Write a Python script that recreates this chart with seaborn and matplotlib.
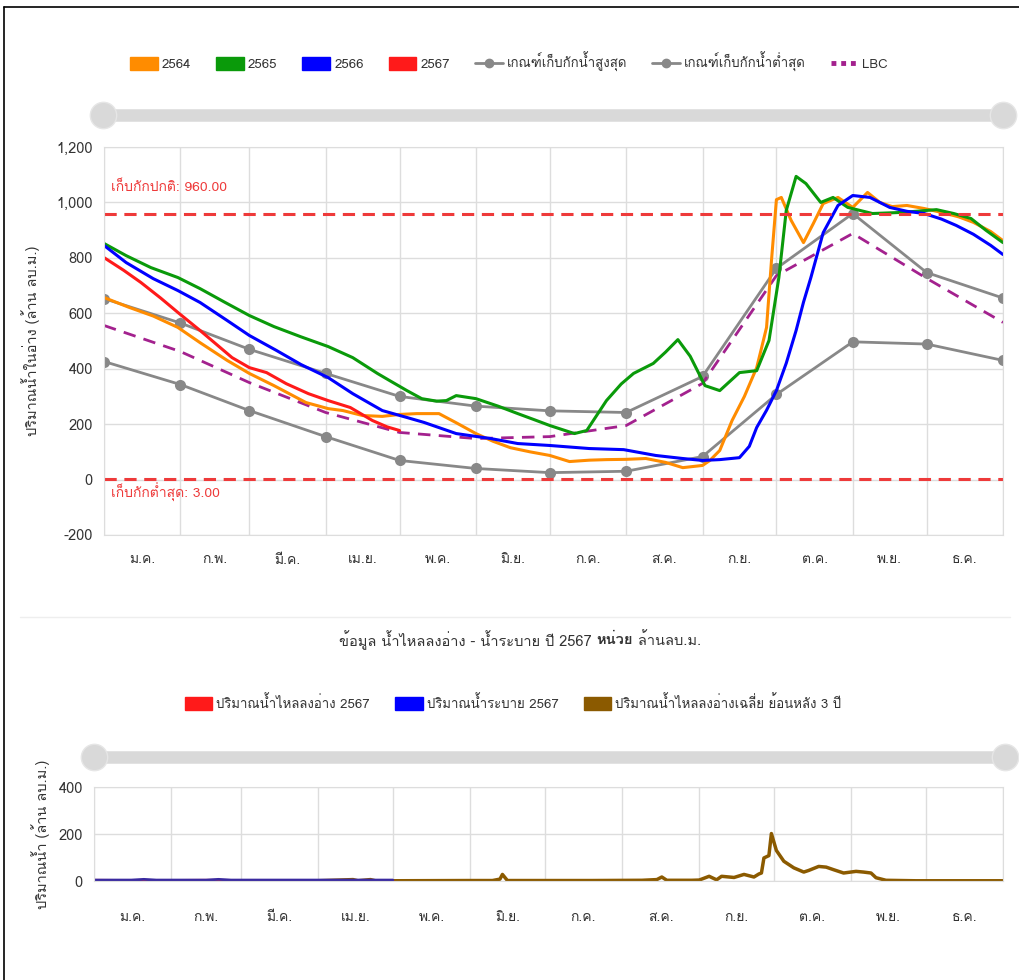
# Reservoir storage chart (two panels) rebuilt with seaborn
import matplotlib
matplotlib.use("Agg")
import matplotlib.pyplot as plt
import seaborn as sns
from matplotlib import font_manager
from matplotlib.lines import Line2D
from matplotlib.patches import Patch
from matplotlib.ticker import FuncFormatter

# ---- data -------------------------------------------------------------
months = ['ม.ค.', 'ก.พ.', 'มี.ค.', 'เม.ย.', 'พ.ค.', 'มิ.ย.',
          'ก.ค.', 'ส.ค.', 'ก.ย.', 'ต.ค.', 'พ.ย.', 'ธ.ค.']
month_start = [0, 31, 59, 90, 120, 151, 181, 212, 243, 273, 304, 334, 365]

rule_max = [653, 565, 470, 383, 300, 265, 248, 242, 372, 762, 960, 747, 655]
rule_min = [426, 343, 249, 155, 69, 40, 25, 30, 83, 307, 497, 489, 430]
lbc = [556, 462, 350, 242, 170, 148, 155, 195, 347, 736, 888, 726, 567]

y2564_day = [0, 10, 20, 30, 39, 50, 59, 69, 82, 91, 97, 105, 113, 120, 127,
             136, 143, 151, 158, 165, 173, 181, 189, 197, 204, 212, 220, 228,
             235, 243, 246, 250, 255, 260, 265, 267, 269, 271, 273, 275, 279,
             284, 288, 292, 298, 304, 310, 315, 320, 326, 333, 340, 347, 353,
             360, 365]
y2564_val = [657, 622, 590, 549, 494, 430, 383, 339, 278, 256, 249, 231, 228,
             235, 238, 238, 205, 166, 138, 115, 100, 87, 65, 70, 72, 73, 76,
             62, 43, 51, 69, 105, 213, 300, 404, 476, 549, 790, 1010, 1018,
             935, 855, 924, 996, 1018, 982, 1036, 1000, 985, 989, 978, 964,
             948, 928, 895, 862]

y2565_day = [0, 9, 19, 30, 39, 49, 59, 69, 80, 91, 101, 111, 116, 123, 129,
             135, 139, 143, 151, 160, 168, 175, 181, 191, 196, 204, 210, 215,
             223, 228, 233, 238, 244, 250, 258, 265, 270, 274, 277, 281, 285,
             291, 296, 302, 312, 324, 338, 345, 352, 358, 365]
y2565_val = [852, 808, 765, 729, 689, 640, 592, 552, 515, 480, 440, 383, 357,
             321, 292, 283, 285, 303, 292, 265, 238, 215, 195, 166, 177, 285,
             345, 383, 419, 460, 505, 445, 339, 321, 386, 393, 502, 729, 971,
             1094, 1068, 1000, 1018, 982, 960, 964, 974, 960, 942, 900, 855]

y2566_day = [0, 9, 20, 30, 39, 50, 59, 70, 80, 91, 101, 113, 123, 130, 143,
             157, 168, 181, 197, 211, 224, 235, 243, 250, 258, 262, 265, 269,
             273, 277, 281, 284, 287, 292, 298, 304, 311, 319, 326, 333, 340,
             346, 353, 360, 365]
y2566_val = [845, 783, 725, 682, 639, 574, 520, 466, 415, 368, 310, 249, 224,
             206, 166, 148, 130, 123, 112, 108, 87, 76, 69, 72, 79, 120, 188,
             250, 321, 420, 538, 640, 729, 891, 989, 1025, 1018, 982, 968,
             960, 940, 917, 885, 845, 812]

y2567_day = [0, 8, 15, 23, 30, 39, 52, 59, 66, 74, 83, 91, 100, 109, 115, 120]
y2567_val = [801, 755, 711, 655, 603, 538, 440, 404, 386, 346, 310, 285, 260,
             213, 190, 177]

normal_level = 960
min_level = 3

# lower panel
inflow_day = [0, 20, 45, 70, 95, 120]
inflow_val = [3, 2, 3, 2, 2, 1]
release_day = [0, 15, 20, 25, 45, 50, 55, 90, 120]
release_val = [4, 4, 7, 4, 4, 7, 4, 4, 4]
avg3_day = [0, 30, 60, 90, 104, 106, 111, 113, 120, 150, 160, 163, 164, 166,
            180, 200, 220, 226, 228, 230, 240, 243, 247, 250, 252, 257, 261,
            265, 267, 268, 269, 271, 272, 274, 277, 281, 285, 287, 291, 294,
            297, 301, 306, 309, 312, 314, 318, 330, 350, 365]
avg3_val = [1, 1, 1, 1, 6, 1, 6, 1, 1, 2, 2, 8, 28, 2, 2, 2, 3, 6, 17, 3, 3,
            4, 20, 5, 20, 15, 28, 17, 30, 34, 98, 108, 202, 130, 84, 56, 38,
            45, 62, 59, 48, 34, 41, 38, 34, 14, 3, 1, 1, 1]

# ---- style ------------------------------------------------------------
sns.set_style("white")


def thai_font():
    from fontTools.ttLib import TTFont
    for f in font_manager.fontManager.ttflist:
        try:
            font = TTFont(f.fname, fontNumber=0, lazy=True)
            if 0x0E01 in font.getBestCmap():
                return f.name
        except Exception:
            continue
    return None


tf = thai_font()
plt.rcParams['font.family'] = [tf, 'DejaVu Sans'] if tf else ['DejaVu Sans']

C_ORANGE = '#ff8c00'
C_GREEN = '#0a9a0a'
C_BLUE = '#0000ff'
C_RED = '#ff1a1a'
C_GRAY = '#888888'
C_LBC = '#a3218e'
C_LIMIT = '#ee3a3a'
C_BROWN = '#8b5a00'
GRID = '#dddddd'
TXT = '#333333'

W, H = 1020, 980
fig = plt.figure(figsize=(W / 100, H / 100), dpi=100)


def fx(x):
    return x / W


def fy(y):
    return 1 - y / H


def axes_px(left, top, right, bottom):
    return fig.add_axes([fx(left), fy(bottom), fx(right - left), (bottom - top) / H])


def style_axes(ax, pad):
    ax.set_xlim(0, 365)
    ax.set_xticks(month_start)
    ax.set_xticklabels([])
    mids = [(a + b) / 2 for a, b in zip(month_start[:-1], month_start[1:])]
    ax.set_xticks(mids, minor=True)
    ax.set_xticklabels(months, minor=True)
    ax.tick_params(axis='x', which='both', length=0, pad=pad, labelsize=10,
                   colors=TXT)
    ax.tick_params(axis='y', length=0, labelsize=10.5, colors=TXT, pad=8)
    ax.grid(True, which='major', color=GRID, lw=1)
    ax.set_axisbelow(True)
    for s in ax.spines.values():
        s.set_color(GRID)


def slider(y, x0, x1):
    fig.add_artist(Line2D([fx(x0), fx(x1)], [fy(y), fy(y)], lw=9,
                          color='#d9d9d9', solid_capstyle='butt'))
    for x in (x0, x1):
        fig.add_artist(Line2D([fx(x)], [fy(y)], marker='o', markersize=19,
                              color='#d9d9d9', markeredgecolor='#e6e6e6'))


# ---- upper panel --------------------------------------------------------
ax = axes_px(104, 147, 1003, 535)
style_axes(ax, 14)
ax.set_ylim(-200, 1200)
ax.set_yticks(range(-200, 1201, 200))
ax.yaxis.set_major_formatter(FuncFormatter(lambda v, p: f'{int(v):,}'))

sns.lineplot(x=month_start, y=rule_max, color=C_GRAY, lw=2, marker='o',
             markersize=8, markeredgewidth=0, ax=ax)
sns.lineplot(x=month_start, y=rule_min, color=C_GRAY, lw=2, marker='o',
             markersize=8, markeredgewidth=0, ax=ax)
sns.lineplot(x=month_start, y=lbc, color=C_LBC, lw=2, ax=ax)
ax.lines[-1].set_dashes([4.5, 3])
sns.lineplot(x=y2564_day, y=y2564_val, color=C_ORANGE, lw=2.2, ax=ax)
sns.lineplot(x=y2565_day, y=y2565_val, color=C_GREEN, lw=2.2, ax=ax)
sns.lineplot(x=y2566_day, y=y2566_val, color=C_BLUE, lw=2.2, ax=ax)
sns.lineplot(x=y2567_day, y=y2567_val, color=C_RED, lw=2.2, ax=ax)

for lvl in (normal_level, min_level):
    ax.axhline(lvl, color=C_LIMIT, lw=2.2, dashes=(4, 2.5))
ax.text(3, normal_level + 95, f'เก็บกักปกติ: {normal_level:.2f}', color=C_LIMIT,
        fontsize=10, va='center')
ax.text(3, min_level - 50, f'เก็บกักต่ำสุด: {min_level:.2f}', color=C_LIMIT,
        fontsize=10, va='center')
ax.set_xlabel('')
ax.set_ylabel('ปริมาณน้ำในอ่าง (ล้าน ลบ.ม.)', fontsize=10.5, color=TXT,
              labelpad=12)

handles = [Patch(color=C_ORANGE), Patch(color=C_GREEN), Patch(color=C_BLUE),
           Patch(color=C_RED),
           Line2D([], [], color=C_GRAY, lw=2, marker='o', markersize=6),
           Line2D([], [], color=C_GRAY, lw=2, marker='o', markersize=6),
           Line2D([], [], color=C_LBC, lw=3.5, ls=(0, (1, 1)))]
labels = ['2564', '2565', '2566', '2567', 'เกณฑ์เก็บกักน้ำสูงสุด',
          'เกณฑ์เก็บกักน้ำต่ำสุด', 'LBC']
fig.legend(handles, labels, loc='center', bbox_to_anchor=(fx(509), fy(62)),
           ncol=7, frameon=False, fontsize=9.5, handlelength=2.1,
           handleheight=1.05, columnspacing=1.9, handletextpad=0.3,
           labelcolor=TXT)
slider(115, 103, 1003)

# ---- middle title -------------------------------------------------------
fig.add_artist(Line2D([fx(20), fx(1010)], [fy(617), fy(617)], lw=1,
                      color='#eeeeee'))
title_parts = [('ข้อมูล น้ำไหลลงอ่าง - น้ำระบาย ปี 2567 ', 'normal'),
               ('หน่วย', 'bold'), (' ล้านลบ.ม.', 'normal')]
renderer = fig.canvas.get_renderer()
pieces = [fig.text(0, fy(640), t, fontsize=10.5, color=TXT, fontweight=w,
                   va='center') for t, w in title_parts]
widths = [p.get_window_extent(renderer).width for p in pieces]
x = 520 - sum(widths) / 2
for p, wd in zip(pieces, widths):
    p.set_x(fx(x))
    x += wd

handles2 = [Patch(color=C_RED), Patch(color=C_BLUE), Patch(color=C_BROWN)]
labels2 = ['ปริมาณน้ำไหลลงอ่าง 2567', 'ปริมาณน้ำระบาย 2567',
           'ปริมาณน้ำไหลลงอ่างเฉลี่ย ย้อนหลัง 3 ปี']
fig.legend(handles2, labels2, loc='center', bbox_to_anchor=(fx(513), fy(703)),
           ncol=3, frameon=False, fontsize=9.5, handlelength=2.1,
           handleheight=1.05, columnspacing=1.9, handletextpad=0.3,
           labelcolor=TXT)
slider(757, 94, 1005)

# ---- lower panel ---------------------------------------------------------
ax2 = axes_px(94, 787, 1003, 881)
style_axes(ax2, 22)
ax2.set_ylim(0, 400)
ax2.set_yticks([0, 200, 400])
sns.lineplot(x=avg3_day, y=avg3_val, color=C_BROWN, lw=2.5, ax=ax2)
sns.lineplot(x=inflow_day, y=inflow_val, color=C_RED, lw=2, ax=ax2)
sns.lineplot(x=release_day, y=release_val, color='#3a2aa0', lw=2, ax=ax2)
ax2.set_xlabel('')
ax2.set_ylabel('ปริมาณน้ำ (ล้าน ลบ.ม.)', fontsize=10.5, color=TXT, labelpad=6)

# outer frame of the screenshot (top and left edges)
fig.add_artist(Line2D([fx(4), 1], [fy(7), fy(7)], color='black', lw=1.2))
fig.add_artist(Line2D([fx(4), fx(4)], [0, fy(7)], color='black', lw=1.2))

fig.savefig('out.png', dpi=100)
